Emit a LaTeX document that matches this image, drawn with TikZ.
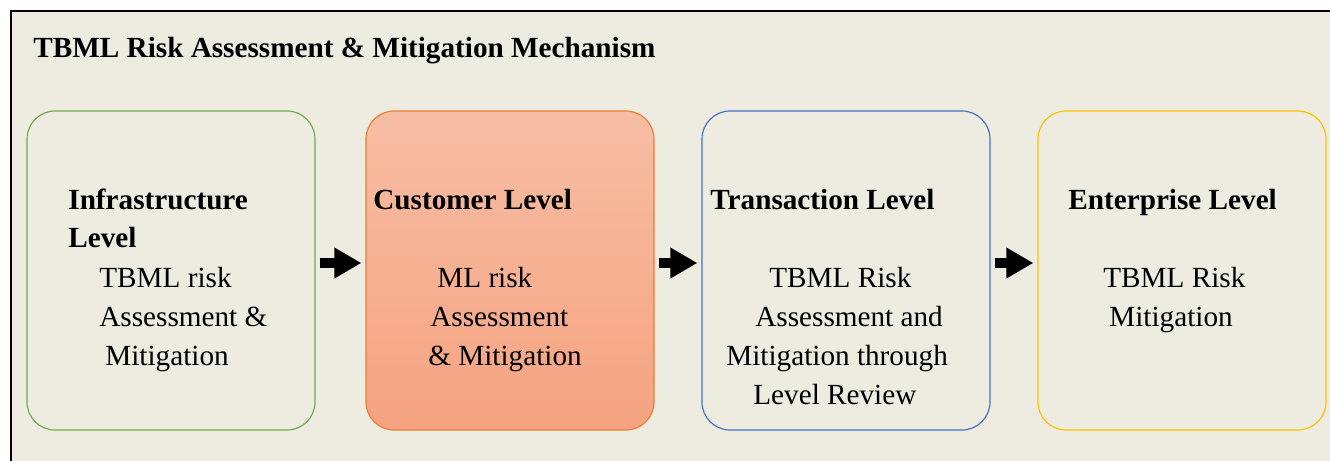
\documentclass[tikz,border=0pt]{standalone}
\usepackage{fontspec}
\setmainfont{LiberationSerif-Regular.ttf}[BoldFont=LiberationSerif-Bold.ttf]
\usetikzlibrary{positioning, arrows.meta}
\definecolor{paper}{RGB}{238,236,225}
\definecolor{greenline}{RGB}{112,173,71}
\definecolor{orangeline}{RGB}{237,125,49}
\definecolor{blueline}{RGB}{68,114,196}
\definecolor{goldline}{RGB}{255,192,0}
\definecolor{salmontop}{RGB}{247,190,165}
\definecolor{salmonbot}{RGB}{245,163,128}

\begin{document}
\begin{tikzpicture}[
	x=0.5pt, y=-0.5pt,
	box/.style={draw, rounded corners=14pt, minimum width=144pt, minimum height=159.5pt,
		inner sep=0pt, line width=0.6pt},
	infrabox/.style={box, draw=greenline},
	custbox/.style={box, draw=orangeline, top color=salmontop, bottom color=salmonbot},
	transbox/.style={box, draw=blueline},
	entbox/.style={box, draw=goldline},
	head/.style={anchor=base west, inner sep=0pt, font=\fontsize{14.6}{19.5}\selectfont\bfseries},
	body/.style={anchor=base west, inner sep=0pt, font=\fontsize{14.6}{19.5}\selectfont},
	flow/.style={-{Triangle[length=13.5pt, width=14.5pt]}, line width=5pt, shorten <=2pt, shorten >=2pt}
	]
	
	\clip (0,0) rectangle (1330,461);
	
	% Frame
	\draw[fill=paper, line width=1pt] (11,11) rectangle (1360,490);
	\node[head] (title) at (33,57) {TBML Risk Assessment \& Mitigation Mechanism};
	
	% Boxes
	\node[infrabox] (infra) at (171,270.5) {};
	\node[custbox]  (cust)  at (510,270.5) {};
	\node[transbox] (trans) at (846,270.5) {};
	\node[entbox]   (ent)   at (1182,270.5) {};
	
	% Texts
	\node[head] (infrahead1) at (68,209) {Infrastructure};
	\node[head] (infrahead2) at (68,247) {Level};
	\node[body] (infrabody1) at (99,287) {TBML risk};
	\node[body] (infrabody2) at (99,326) {Assessment \&};
	\node[body] (infrabody3) at (105,365) {Mitigation};
	
	\node[head] (custhead)  at (373,209) {Customer Level};
	\node[body] (custbody1) at (437,287) {ML risk};
	\node[body] (custbody2) at (430,326) {Assessment};
	\node[body] (custbody3) at (428,365) {\& Mitigation};
	
	\node[head] (transhead)  at (710,209) {Transaction Level};
	\node[body] (transbody1) at (769,287) {TBML Risk};
	\node[body] (transbody2) at (755,326) {Assessment and};
	\node[body] (transbody3) at (726,365) {Mitigation through};
	\node[body] (transbody4) at (753,404) {Level Review};
	
	\node[head] (enthead)  at (1068,209) {Enterprise Level};
	\node[body] (entbody1) at (1103,287) {TBML Risk};
	\node[body] (entbody2) at (1109,326) {Mitigation};
	
	% Arrows
	\draw[flow] ([yshift=3.75pt]infra.east) -- ([yshift=3.75pt]cust.west);
	\draw[flow] ([yshift=3.75pt]cust.east) -- ([yshift=3.75pt]trans.west);
	\draw[flow] ([yshift=3.75pt]trans.east) -- ([yshift=3.75pt]ent.west);
	
\end{tikzpicture}
\end{document}
